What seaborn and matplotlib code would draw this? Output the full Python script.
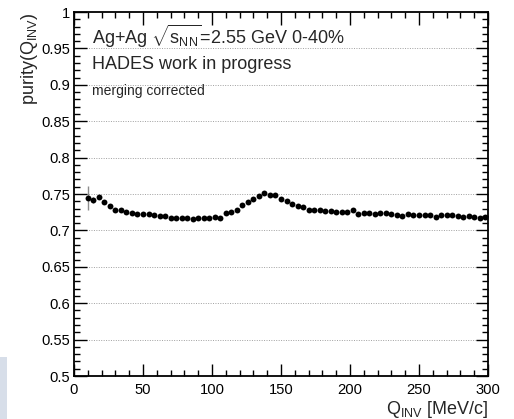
import numpy as np
import pandas as pd
import matplotlib
matplotlib.use("Agg")
import matplotlib.pyplot as plt
import seaborn as sns
from matplotlib.patches import Rectangle
from matplotlib.ticker import MultipleLocator, FuncFormatter

# ---- data ----
q_inv = [10, 14, 18, 22, 26, 30, 34, 38, 42, 46, 50, 54, 58, 62, 66, 70, 74, 78,
         82, 86, 90, 94, 98, 102, 106, 110, 114, 118, 122, 126, 130, 134, 138,
         142, 146, 150, 154, 158, 162, 166, 170, 174, 178, 182, 186, 190, 194,
         198, 202, 206, 210, 214, 218, 222, 226, 230, 234, 238, 242, 246, 250,
         254, 258, 262, 266, 270, 274, 278, 282, 286, 290, 294, 298]
purity = [0.7445, 0.7420, 0.7463, 0.7385, 0.7335, 0.7280, 0.7275, 0.7250, 0.7240,
          0.7225, 0.7220, 0.7225, 0.7205, 0.7197, 0.7193, 0.7165, 0.7175, 0.7170,
          0.7170, 0.7160, 0.7170, 0.7170, 0.7175, 0.7190, 0.7177, 0.7234, 0.7248,
          0.7284, 0.7349, 0.7394, 0.7430, 0.7468, 0.7510, 0.7490, 0.7480, 0.7427,
          0.7410, 0.7358, 0.7335, 0.7317, 0.7280, 0.7280, 0.7275, 0.7266, 0.7266,
          0.7257, 0.7257, 0.7248, 0.7275, 0.7225, 0.7239, 0.7234, 0.7230, 0.7239,
          0.7239, 0.7225, 0.7216, 0.7197, 0.7225, 0.7216, 0.7216, 0.7216, 0.7216,
          0.7179, 0.7216, 0.7206, 0.7206, 0.7197, 0.7179, 0.7197, 0.7179, 0.7170,
          0.7179]
purity_err = [0.017, 0.004, 0.003, 0.002, 0.002, 0.0015, 0.0015, 0.0015, 0.0015,
              0.001, 0.001, 0.001, 0.001, 0.001, 0.001, 0.001, 0.001, 0.001,
              0.001, 0.001, 0.001, 0.001, 0.001, 0.001, 0.001, 0.001, 0.001,
              0.001, 0.001, 0.001, 0.001, 0.001, 0.001, 0.001, 0.001, 0.001,
              0.001, 0.001, 0.001, 0.001, 0.001, 0.001, 0.001, 0.001, 0.001,
              0.001, 0.001, 0.001, 0.001, 0.001, 0.001, 0.001, 0.001, 0.001,
              0.001, 0.001, 0.001, 0.001, 0.001, 0.001, 0.001, 0.001, 0.001,
              0.001, 0.001, 0.001, 0.001, 0.001, 0.001, 0.001, 0.001, 0.001,
              0.001]
x_ticks = [0, 50, 100, 150, 200, 250, 300]
y_ticks = [0.5, 0.55, 0.6, 0.65, 0.7, 0.75, 0.8, 0.85, 0.9, 0.95, 1.0]

df = pd.DataFrame({"q": q_inv, "purity": purity, "err": purity_err})

sns.set_style("ticks")
plt.rcParams["font.family"] = ["Liberation Sans", "DejaVu Sans"]
plt.rcParams["mathtext.fontset"] = "custom"
plt.rcParams["mathtext.rm"] = "Liberation Sans"
plt.rcParams["mathtext.it"] = "Liberation Sans:italic"
plt.rcParams["mathtext.bf"] = "Liberation Sans:bold"
plt.rcParams["mathtext.default"] = "regular"

W, H = 514, 419
fig = plt.figure(figsize=(W / 100, H / 100), dpi=100)
fig.patch.set_facecolor("white")
L, R, T, B = 74, 488, 12, 376
ax = fig.add_axes([L / W, 1 - B / H, (R - L) / W, (B - T) / H])

# gridlines (horizontal only)
for yv in y_ticks[1:-1]:
    ax.axhline(yv, color="#a0a0a0", lw=0.7, ls=(0, (1, 1.5)), zorder=0)

ax.errorbar(df["q"], df["purity"], yerr=df["err"], fmt="none",
            ecolor="#8c8c8c", elinewidth=1.0, capsize=0, zorder=2)
sns.scatterplot(data=df, x="q", y="purity", ax=ax, color="black", s=18,
                edgecolor="black", linewidth=0, zorder=3, legend=False)

ax.set_xlim(0, 300)
ax.set_ylim(0.5, 1.0)
ax.set_xticks(x_ticks)
ax.set_yticks(y_ticks)
ax.xaxis.set_minor_locator(MultipleLocator(10))
ax.yaxis.set_minor_locator(MultipleLocator(0.01))
fmt = FuncFormatter(lambda v, p: ("%.2f" % v).rstrip("0").rstrip("."))
ax.yaxis.set_major_formatter(fmt)
ax.xaxis.set_major_formatter(FuncFormatter(lambda v, p: "%d" % v))

ax.tick_params(axis="both", which="both", direction="in", top=True, right=True,
               colors="black", width=1.0)
ax.tick_params(axis="both", which="major", length=9, labelsize=10.6)
ax.tick_params(axis="both", which="minor", length=4.5)
ax.tick_params(axis="x", which="major", pad=5)
ax.tick_params(axis="y", which="major", pad=3)
ax.tick_params(axis="x", top=True, labeltop=False)
ax.tick_params(axis="y", right=True, labelright=False)
for s in ax.spines.values():
    s.set_linewidth(1.3)
    s.set_color("black")
ax.set_xlabel("")
ax.set_ylabel("")

# axis titles (ROOT style: at the end of the axes)
fig.text(R / W, 1 - 414 / H, r"Q$_{INV}$ [MeV/c]", ha="right", va="baseline",
         fontsize=13)
fig.text(29 / W, 1 - T / H, r"purity(Q$_{INV}$)", ha="center", va="top",
         rotation=90, fontsize=13)

# annotations
fig.text(92 / W, 1 - 44.5 / H, r"Ag+Ag $\sqrt{s_{NN}}$=2.55 GeV 0-40%",
         ha="left", va="baseline", fontsize=13)
fig.text(92 / W, 1 - 69 / H, "HADES work in progress",
         ha="left", va="baseline", fontsize=13)
fig.text(92 / W, 1 - 95.5 / H, "merging corrected",
         ha="left", va="baseline", fontsize=10)

# light blue strip at bottom left
fig.patches.append(Rectangle((0, 0), 7 / W, 62 / H, transform=fig.transFigure,
                             facecolor="#d7dee9", edgecolor="none", zorder=0))

fig.savefig("out.png", dpi=100)
